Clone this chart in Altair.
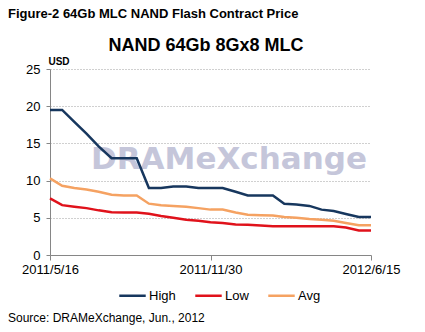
import altair as alt
import pandas as pd

dates = ["2011-05-16", "2011-05-31", "2011-06-15", "2011-06-30", "2011-07-15", "2011-07-31",
         "2011-08-15", "2011-08-31", "2011-09-15", "2011-09-30", "2011-10-15", "2011-10-31",
         "2011-11-15", "2011-11-30", "2011-12-15", "2011-12-31", "2012-01-15", "2012-01-31",
         "2012-02-15", "2012-02-29", "2012-03-15", "2012-03-31", "2012-04-15", "2012-04-30",
         "2012-05-15", "2012-05-31", "2012-06-15"]
high = [19.5, 19.5, 17.9, 16.3, 14.6, 13.0, 13.0, 13.0, 9.0, 9.0, 9.2, 9.2, 9.0, 9.0,
        9.0, 8.5, 8.0, 8.0, 8.0, 6.9, 6.8, 6.6, 6.1, 5.9, 5.5, 5.1, 5.1]
low = [7.6, 6.7, 6.5, 6.3, 6.0, 5.75, 5.7, 5.7, 5.55, 5.25, 5.0, 4.75, 4.6, 4.4,
       4.3, 4.1, 4.05, 3.95, 3.85, 3.85, 3.85, 3.85, 3.85, 3.85, 3.7, 3.3, 3.3]
avg = [10.3, 9.3, 9.0, 8.8, 8.5, 8.1, 8.0, 8.0, 6.9, 6.7, 6.6, 6.5, 6.3, 6.1,
       6.1, 5.7, 5.4, 5.35, 5.3, 5.1, 5.0, 4.85, 4.75, 4.6, 4.3, 4.0, 4.0]
series = ["High", "Low", "Avg"]
colors = ["#17375E", "#E0121B", "#F5A262"]

rows = []
for name, vals in zip(series, [high, low, avg]):
    for d, v in zip(dates, vals):
        rows.append({"date": d, "price": v, "series": name})
df = pd.DataFrame(rows)

FONT = "Liberation Sans"

x_enc = alt.X(
    "date:T",
    scale=alt.Scale(type="utc",
                    domain=[alt.DateTime(year=2011, month=5, date=16, utc=True),
                            alt.DateTime(year=2012, month=6, date=15, utc=True)],
                    nice=False),
    axis=alt.Axis(
        title=None,
        values=[alt.DateTime(year=2011, month=5, date=16, utc=True),
                alt.DateTime(year=2011, month=11, date=30, utc=True),
                alt.DateTime(year=2012, month=6, date=15, utc=True)],
        labelExpr="utcFormat(datum.value, '%Y/%-m/%-d')",
        grid=False, domainColor="#868686", tickColor="#868686", tickSize=5,
        labelFont=FONT, labelFontSize=13, labelColor="#000000", labelPadding=3,
        labelOverlap=False, labelFlush=False),
)
y_enc = alt.Y(
    "price:Q",
    scale=alt.Scale(domain=[0, 25], nice=False),
    axis=alt.Axis(
        title=None, values=[0, 5, 10, 15, 20, 25],
        grid=True, gridColor="#A0A0A0", gridDash=[1, 2], gridWidth=1,
        domainColor="#868686", tickColor="#868686", tickSize=4,
        labelFont=FONT, labelFontSize=13, labelColor="#000000", labelPadding=6),
)

watermark = alt.Chart(pd.DataFrame({"t": ["DRAMeXchange"]})).mark_text(
    font="DejaVu Sans", fontWeight="bold", fontSize=31, color="#C5C6DA",
    align="center", baseline="middle"
).encode(x=alt.value(179), y=alt.value(91), text="t:N")

lines = alt.Chart(df).mark_line(strokeWidth=2.5).encode(
    x=x_enc, y=y_enc,
    color=alt.Color("series:N",
                    scale=alt.Scale(domain=series, range=colors),
                    legend=alt.Legend(title=None, orient="none", direction="horizontal",
                                      legendX=68, legendY=212,
                                      symbolType="stroke", symbolStrokeWidth=2.5,
                                      symbolSize=700, columnPadding=14,
                                      labelFont=FONT, labelFontSize=13,
                                      labelColor="#000000", labelOffset=2)),
    detail="series:N",
)

def label(text, x, y, size, weight="normal", align="left"):
    return alt.Chart(pd.DataFrame({"t": [text]})).mark_text(
        font=FONT, fontSize=size, fontWeight=weight, color="#000000",
        align=align, baseline="middle"
    ).encode(x=alt.value(x), y=alt.value(y), text="t:N")

fig_title = label("Figure-2 64Gb MLC NAND Flash Contract Price", -42, -55, 13, "bold")
chart_title = label("NAND 64Gb 8Gx8 MLC", 156, -23, 18, "bold", "center")
usd = label("USD", 9, -7, 10, "bold", "center")
source = label("Source: DRAMeXchange, Jun., 2012", -42, 249, 12)

chart = alt.layer(watermark, lines, fig_title, chart_title, usd, source).properties(
    width=321, height=186,
    padding={"left": 50, "top": 69, "right": 54, "bottom": 77},
    autosize=alt.AutoSizeParams(type="none"),
    background="#FFFFFF",
).configure_view(stroke=None)

chart.save("out.html", embed_options={"renderer": "svg", "actions": False})
